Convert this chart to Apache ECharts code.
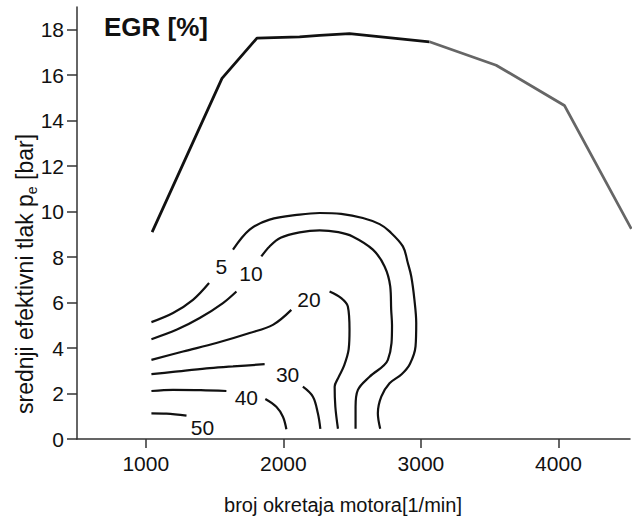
<!DOCTYPE html>
<html>
<head>
<meta charset="utf-8">
<script src="https://cdn.jsdelivr.net/npm/echarts@6/dist/echarts.min.js"></script>
<style>html,body{margin:0;padding:0;background:#fff}#c{width:638px;height:519px}</style>
</head>
<body>
<div id="c"></div>
<script>
// ---- data (engine speed [1/min], mean effective pressure [bar]) ----
var xTicks = [1000, 2000, 3000, 4000];
var yTicks = [0, 2, 4, 6, 8, 10, 12, 14, 16, 18];

var fullLoadBlack = [[1046, 9.10], [1554, 15.86], [1808, 17.63], [2118, 17.69], [2264, 17.75], [2481, 17.83], [3062, 17.47]];
var fullLoadGray = [[3062, 17.47], [3547, 16.44], [4043, 14.67], [4530, 9.24]];

var contour5a = [[1041, 5.14], [1198, 5.54], [1343, 6.12], [1460, 6.86]];
var contour5b = [[1634, 8.33], [1755, 9.21], [1900, 9.65], [2118, 9.87], [2264, 9.94], [2420, 9.9], [2578, 9.72], [2700, 9.45], [2772, 9.13], [2869, 8.47], [2905, 7.74], [2930, 7.15], [2953, 6.12], [2966, 5.10], [2961, 4.07], [2920, 3.3], [2860, 2.85], [2772, 2.45], [2712, 1.86], [2687, 1.13], [2704, 0.45]];
var contour10a = [[1041, 4.39], [1223, 4.80], [1392, 5.32], [1561, 5.98], [1659, 6.49]];
var contour10b = [[1840, 8.03], [1900, 8.47], [1980, 8.85], [2118, 9.09], [2264, 9.18], [2400, 9.1], [2503, 8.91], [2651, 8.33], [2736, 7.59], [2777, 6.71], [2784, 5.68], [2790, 5.0], [2760, 3.48], [2627, 2.74], [2542, 2.16], [2525, 1.42], [2525, 0.45]];
var contour20a = [[1041, 3.48], [1271, 3.85], [1513, 4.22], [1755, 4.66], [1924, 5.02], [2058, 5.68]];
var contour20b = [[2336, 6.49], [2421, 6.20], [2469, 5.83], [2481, 4.80], [2475, 3.95], [2440, 3.2], [2400, 2.7], [2373, 2.30], [2378, 1.42], [2397, 0.45]];
var contour30a = [[1041, 2.85], [1198, 2.95], [1441, 3.11], [1634, 3.19], [1864, 3.29]];
var contour30b = [[2142, 2.30], [2215, 1.86], [2251, 1.13], [2269, 0.45]];
var contour40a = [[1041, 2.11], [1198, 2.16], [1400, 2.15], [1586, 2.11]];
var contour40b = [[1869, 1.76], [1949, 1.42], [1997, 0.98], [2022, 0.43]];
var contour50 = [[1041, 1.13], [1150, 1.12], [1296, 1.03]];

var contourLabels = [[1550, 7.60, '5'], [1764, 7.30, '10'], [2186, 6.15, '20'], [2031, 2.85, '30'], [1731, 1.84, '40'], [1412, 0.50, '50']];

var FONT = "'Liberation Sans', Arial, Helvetica, sans-serif";
var INK = '#111';

function contourSeries(data) {
  return {
    type: 'line', data: data, smooth: 0.35, symbol: 'none', silent: true,
    lineStyle: { color: INK, width: 2.2 }, clip: false, z: 3
  };
}

var chart = echarts.init(document.getElementById('c'), null, { renderer: 'svg' });
var series = [
  { type: 'line', data: fullLoadBlack, symbol: 'none', silent: true, clip: false, lineStyle: { color: INK, width: 2.8 }, z: 4 },
  { type: 'line', data: fullLoadGray, symbol: 'none', silent: true, clip: false, lineStyle: { color: '#666', width: 2.8 }, z: 4 }
];
[contour5a, contour5b, contour10a, contour10b, contour20a, contour20b, contour30a, contour30b, contour40a, contour40b, contour50].forEach(function (c) { series.push(contourSeries(c)); });
series.push({
  type: 'scatter', data: contourLabels, symbolSize: 0, silent: true,
  itemStyle: { color: INK, opacity: 1 },
  label: { show: true, position: 'inside', formatter: function (p) { return p.data[2]; }, color: INK, opacity: 1, textBorderWidth: 0, fontSize: 21, fontFamily: FONT },
  z: 5
});

chart.setOption({
  animation: false,
  backgroundColor: '#fff',
  title: { text: 'EGR [%]', left: 99, top: 9, textStyle: { fontFamily: FONT, fontSize: 26, fontWeight: 'bold', color: INK } },
  grid: { left: 77, right: 8, top: 7, bottom: 80, containLabel: false },
  xAxis: {
    type: 'value', min: 500, max: 4520,
    axisLine: { lineStyle: { color: '#333', width: 1.5 } },
    axisTick: { show: true, length: 9, customValues: xTicks, lineStyle: { color: '#333', width: 1.5 } },
    axisLabel: { customValues: xTicks, margin: 14, fontSize: 21, fontFamily: FONT, color: INK, formatter: function (v) { return String(v); } },
    splitLine: { show: false }
  },
  yAxis: {
    type: 'value', min: 0, max: 19,
    axisLine: { show: true, lineStyle: { color: '#333', width: 1.5 } },
    axisTick: { show: true, length: 10, customValues: yTicks, lineStyle: { color: '#333', width: 1.5 } },
    axisLabel: { customValues: yTicks, margin: 13, fontSize: 21, fontFamily: FONT, color: INK, formatter: function (v) { return String(v); } },
    splitLine: { show: false }
  },
  graphic: [
    {
      type: 'text', x: 25, y: 274, rotation: Math.PI / 2,
      style: {
        text: '{a|srednji efektivni tlak p}{s|e}{a| [bar]}',
        align: 'center', verticalAlign: 'middle', fill: INK,
        rich: {
          a: { fontSize: 23, fontFamily: FONT, lineHeight: 28, verticalAlign: 'middle', fill: INK },
          s: { fontSize: 14, fontFamily: FONT, lineHeight: 15, verticalAlign: 'bottom', fill: INK }
        }
      }
    },
    {
      type: 'text', x: 343, y: 505,
      style: { text: 'broj okretaja motora[1/min]', align: 'center', verticalAlign: 'middle', fontSize: 20, fontFamily: FONT, fill: INK }
    }
  ],
  series: series
});
</script>
</body>
</html>
